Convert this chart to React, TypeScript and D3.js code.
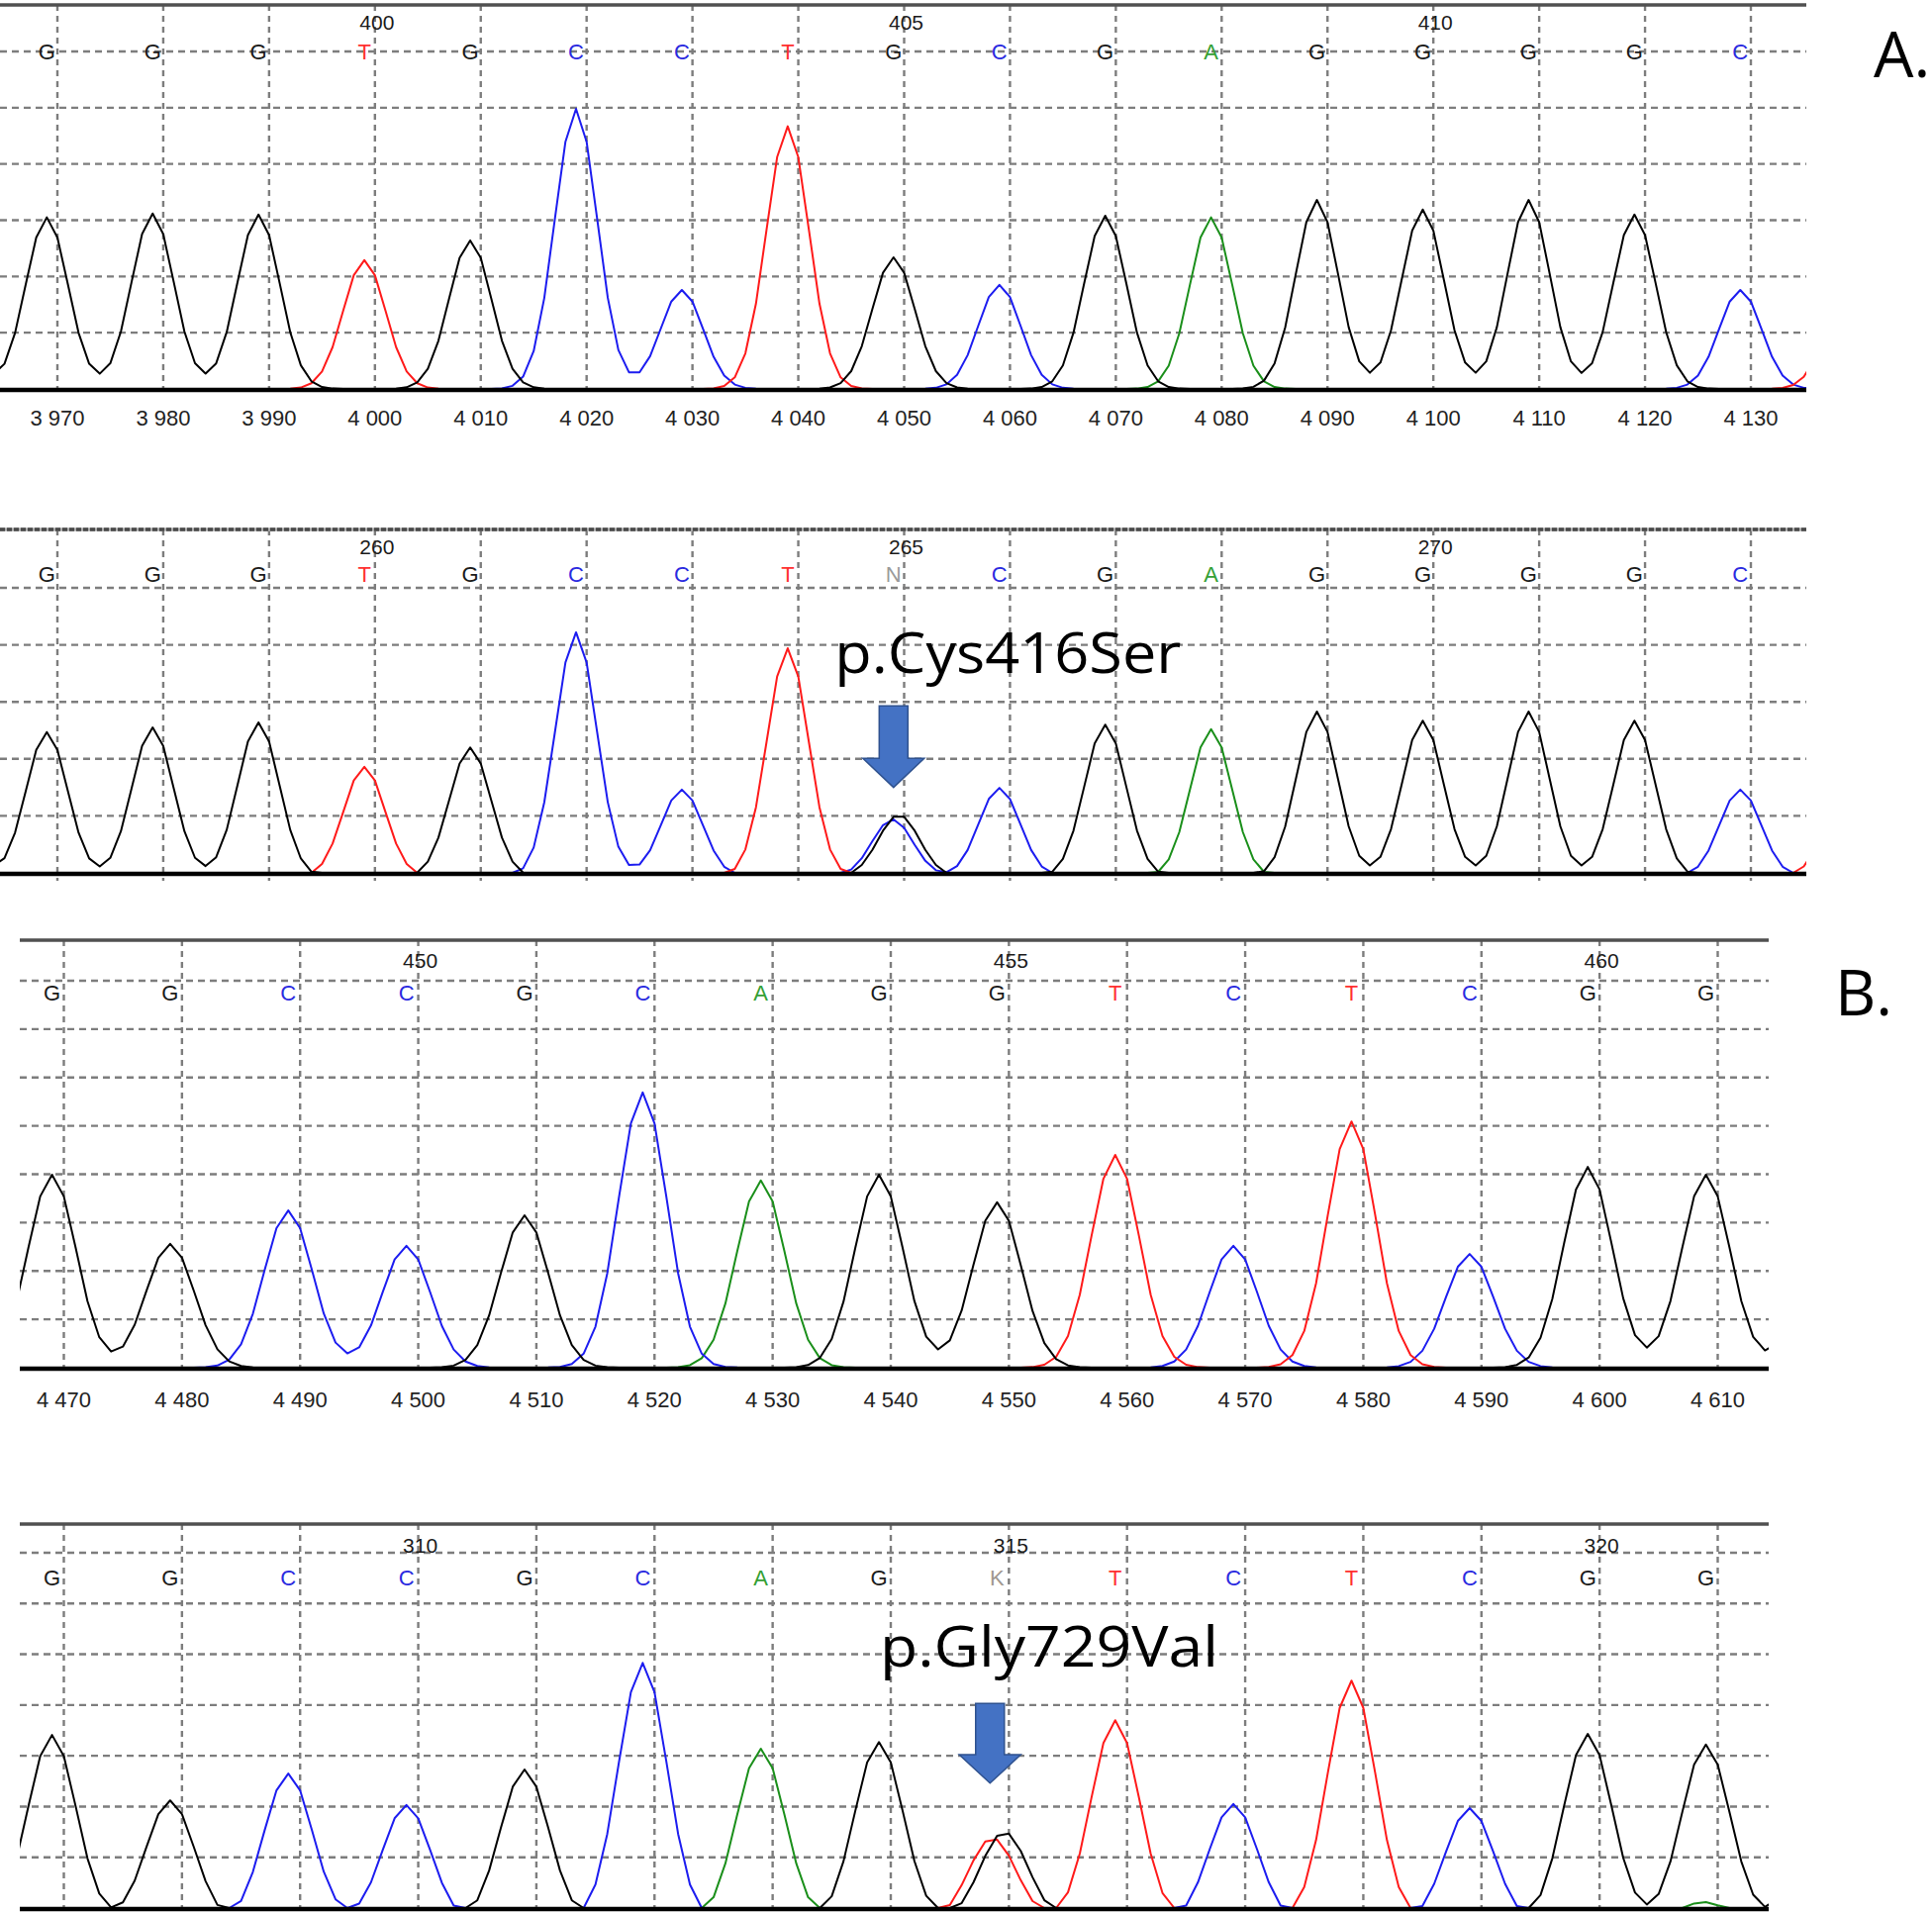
import React from "react";
import * as d3 from "d3";

// ---------------- data ----------------
const ticksA = [3970, 3980, 3990, 4000, 4010, 4020, 4030, 4040, 4050, 4060, 4070, 4080, 4090, 4100, 4110, 4120, 4130];
const ticksB = [4470, 4480, 4490, 4500, 4510, 4520, 4530, 4540, 4550, 4560, 4570, 4580, 4590, 4600, 4610];

const callPosA = [3969, 3979, 3989, 3999, 4009, 4019, 4029, 4039, 4049, 4059, 4069, 4079, 4089, 4099, 4109, 4119, 4129];
const callsA1 = ["G", "G", "G", "T", "G", "C", "C", "T", "G", "C", "G", "A", "G", "G", "G", "G", "C"];
const callsA2 = ["G", "G", "G", "T", "G", "C", "C", "T", "N", "C", "G", "A", "G", "G", "G", "G", "C"];
const numberPosA = [4000, 4050, 4100];
const numbersA1 = [400, 405, 410];
const numbersA2 = [260, 265, 270];

const callPosB = [4469, 4479, 4489, 4499, 4509, 4519, 4529, 4539, 4549, 4559, 4569, 4579, 4589, 4599, 4609];
const callsB1 = ["G", "G", "C", "C", "G", "C", "A", "G", "G", "T", "C", "T", "C", "G", "G"];
const callsB2 = ["G", "G", "C", "C", "G", "C", "A", "G", "K", "T", "C", "T", "C", "G", "G"];
const numberPosB = [4500, 4550, 4600];
const numbersB1 = [450, 455, 460];
const numbersB2 = [310, 315, 320];

// peaks (channel, position, height in grid units)
const peakBasesA1 = ["G", "G", "G", "G", "T", "G", "C", "C", "T", "G", "C", "G", "A", "G", "G", "G", "G", "C", "T"];
const peakPosA1 = [3959, 3969, 3979, 3989, 3999, 4009, 4019, 4029, 4039, 4049, 4059, 4069, 4079, 4089, 4099, 4109, 4119, 4129, 4139];
const peakHeightsA1 = [3.0, 3.05, 3.12, 3.1, 2.29, 2.64, 4.98, 1.76, 4.67, 2.34, 1.85, 3.08, 3.05, 3.36, 3.19, 3.36, 3.1, 1.76, 1.6];

const peakBasesA2 = ["G", "G", "G", "G", "T", "G", "C", "C", "T", "G", "C", "C", "G", "A", "G", "G", "G", "G", "C", "T"];
const peakPosA2 = [3959, 3969, 3979, 3989, 3999, 4009, 4019, 4029, 4039, 4049.5, 4048.9, 4059, 4069, 4079, 4089, 4099, 4109, 4119, 4129, 4139];
const peakHeightsA2 = [3.0, 2.47, 2.55, 2.64, 1.86, 2.2, 4.22, 1.46, 3.94, 1.02, 0.94, 1.49, 2.6, 2.52, 2.83, 2.67, 2.83, 2.67, 1.46, 1.5];

const peakBasesB1 = ["G", "G", "C", "C", "G", "C", "A", "G", "G", "T", "C", "T", "C", "G", "G", "G"];
const peakPosB1 = [4469, 4479, 4489, 4499, 4509, 4519, 4529, 4539, 4549, 4559, 4569, 4579, 4589, 4599, 4609, 4619];
const peakHeightsB1 = [3.99, 2.56, 3.25, 2.52, 3.15, 5.69, 3.87, 3.99, 3.42, 4.4, 2.52, 5.09, 2.35, 4.15, 3.99, 3.0];

const peakBasesB2 = ["G", "G", "C", "C", "G", "C", "A", "G", "G", "T", "T", "C", "T", "C", "G", "G", "A", "G"];
const peakPosB2 = [4469, 4479, 4489, 4499, 4509, 4519, 4529, 4539, 4549.6, 4548.6, 4559, 4569, 4579, 4589, 4599, 4609, 4608.8, 4619];
const peakHeightsB2 = [3.41, 2.12, 2.65, 2.03, 2.73, 4.83, 3.14, 3.27, 1.5, 1.38, 3.7, 2.05, 4.48, 1.97, 3.43, 3.22, 0.12, 2.5];

// annotations (data units)
const mutationA = { label: "p.Cys416Ser", pos: 4049, tip: 1.5, headBase: 2.01, top: 2.93, textPos: 4059.8, textH: 3.5 };
const mutationB = { label: "p.Gly729Val", pos: 4548.4, tip: 2.46, headBase: 3.02, top: 4.03, textPos: 4553.4, textH: 4.76 };

// ---------------- styles ----------------
const traceColor: Record<string, string> = { A: "#1a8f1a", C: "#1c1cf0", T: "#ff1a1a", G: "#000000" };
const letterColor: Record<string, string> = { A: "#34a034", C: "#2a2ae0", T: "#ff3030", G: "#1a1a1a", N: "#9a9a9a", K: "#a09890" };
const gridColor = "#7d7d7d";
const SANS = "'Liberation Sans', Arial, sans-serif";
const LABEL = "'Open Sans', 'Noto Sans', sans-serif";

interface PanelCfg {
  id: string;
  xDomain: [number, number];
  xRange: [number, number];
  clipX: [number, number];
  topY: number;
  topDashed: boolean;
  gridTop: number;
  baseline: number;
  nGrid: number;
  numberY: number;
  callY: number;
  tickLabelY: number | null;
  ticks: number[];
  calls: string[];
  callPos: number[];
  numbers: number[];
  numberPos: number[];
  peakBases: string[];
  peakPos: number[];
  peakHeights: number[];
  sigma: number;
  offset: number;
}

const panels: PanelCfg[] = [
  {
    id: "a1", xDomain: [3970, 4130], xRange: [58, 1769], clipX: [0, 1825],
    topY: 5, topDashed: false, gridTop: 52, baseline: 393, nGrid: 6,
    numberY: 30, callY: 60, tickLabelY: 430,
    ticks: ticksA, calls: callsA1, callPos: callPosA, numbers: numbersA1, numberPos: numberPosA,
    peakBases: peakBasesA1, peakPos: peakPosA1, peakHeights: peakHeightsA1, sigma: 2.0, offset: 0,
  },
  {
    id: "a2", xDomain: [3970, 4130], xRange: [58, 1769], clipX: [0, 1825],
    topY: 535, topDashed: true, gridTop: 594, baseline: 882, nGrid: 5,
    numberY: 560, callY: 588, tickLabelY: null,
    ticks: ticksA, calls: callsA2, callPos: callPosA, numbers: numbersA2, numberPos: numberPosA,
    peakBases: peakBasesA2, peakPos: peakPosA2, peakHeights: peakHeightsA2, sigma: 1.95, offset: 0.08,
  },
  {
    id: "b1", xDomain: [4470, 4610], xRange: [64.5, 1735.5], clipX: [20, 1787],
    topY: 950, topDashed: false, gridTop: 991, baseline: 1382, nGrid: 8,
    numberY: 978, callY: 1011, tickLabelY: 1422,
    ticks: ticksB, calls: callsB1, callPos: callPosB, numbers: numbersB1, numberPos: numberPosB,
    peakBases: peakBasesB1, peakPos: peakPosB1, peakHeights: peakHeightsB1, sigma: 2.05, offset: 0,
  },
  {
    id: "b2", xDomain: [4470, 4610], xRange: [64.5, 1735.5], clipX: [20, 1787],
    topY: 1540, topDashed: false, gridTop: 1569, baseline: 1928, nGrid: 7,
    numberY: 1569, callY: 1602, tickLabelY: null,
    ticks: ticksB, calls: callsB2, callPos: callPosB, numbers: numbersB2, numberPos: numberPosB,
    peakBases: peakBasesB2, peakPos: peakPosB2, peakHeights: peakHeightsB2, sigma: 2.05, offset: 0.3,
  },
];

const fmtTick = (v: number) => d3.format(",")(v).replace(",", " ");

function scalesFor(cfg: PanelCfg) {
  const x = d3.scaleLinear().domain(cfg.xDomain).range(cfg.xRange);
  const y = d3.scaleLinear().domain([0, cfg.nGrid]).range([cfg.baseline, cfg.gridTop]);
  return { x, y };
}

function Panel({ cfg }: { cfg: PanelCfg }) {
  const { x, y } = scalesFor(cfg);
  const [cl, cr] = cfg.clipX;
  const v0 = Math.floor(x.invert(cl)) - 2;
  const v1 = Math.ceil(x.invert(cr)) + 2;
  const samples = d3.range(v0, v1 + 0.001, 1);
  const line = d3
    .line<[number, number]>()
    .x((d) => x(d[0]))
    .y((d) => y(d[1]));
  const s2 = 2 * cfg.sigma * cfg.sigma;
  const channels = ["A", "C", "T", "G"];
  const traces = channels.map((ch) => {
    const idx = cfg.peakBases.map((b, i) => (b === ch ? i : -1)).filter((i) => i >= 0);
    const pts: [number, number][] = samples.map((v) => {
      const sum = d3.sum(idx, (i) => (cfg.peakHeights[i] + cfg.offset) * Math.exp(-((v - cfg.peakPos[i]) ** 2) / s2));
      return [v, Math.max(0, sum - cfg.offset)];
    });
    return { ch, d: line(pts) || "" };
  });
  const gridYs = d3.range(1, cfg.nGrid + 1).map((i) => y(i));
  const clipId = `clip-${cfg.id}`;
  return (
    <g>
      <defs>
        <clipPath id={clipId}>
          <rect x={cl} y={cfg.topY} width={cr - cl} height={cfg.baseline - cfg.topY + 3} />
        </clipPath>
      </defs>
      {/* horizontal grid */}
      {gridYs.map((gy, i) => (
        <line key={`h${i}`} x1={cl} x2={cr} y1={gy} y2={gy} stroke={gridColor} strokeWidth={2.4} strokeDasharray="7,5" />
      ))}
      {/* vertical grid / ticks */}
      {cfg.ticks.map((t) => (
        <line key={`v${t}`} x1={x(t)} x2={x(t)} y1={cfg.topY} y2={cfg.baseline + 8} stroke={gridColor} strokeWidth={2.4} strokeDasharray="6,5" />
      ))}
      {/* top border */}
      {cfg.topDashed ? (
        <g>
          <line x1={cl} x2={cr} y1={cfg.topY} y2={cfg.topY} stroke="#aaa" strokeWidth={3.5} />
          <line x1={cl} x2={cr} y1={cfg.topY} y2={cfg.topY} stroke="#4a4a4a" strokeWidth={3.5} strokeDasharray="5,2" />
        </g>
      ) : (
        <line x1={cl} x2={cr} y1={cfg.topY} y2={cfg.topY} stroke="#505050" strokeWidth={3.5} />
      )}
      {/* traces */}
      <g clipPath={`url(#${clipId})`}>
        {traces.map((t) => (
          <path key={t.ch} d={t.d} fill="none" stroke={traceColor[t.ch]} strokeWidth={2} strokeLinejoin="round" />
        ))}
      </g>
      {/* baseline */}
      <line x1={cl} x2={cr} y1={cfg.baseline + 1} y2={cfg.baseline + 1} stroke="#000" strokeWidth={4.5} />
      {/* base position numbers */}
      {cfg.numbers.map((n, i) => (
        <text key={`n${n}`} x={x(cfg.numberPos[i]) + 2} y={cfg.numberY} textAnchor="middle" fontFamily={SANS} fontSize={21} fill="#1a1a1a">
          {n}
        </text>
      ))}
      {/* base calls */}
      {cfg.calls.map((c, i) => (
        <text key={`c${i}`} x={x(cfg.callPos[i])} y={cfg.callY} textAnchor="middle" fontFamily={SANS} fontSize={22} fill={letterColor[c]}>
          {c}
        </text>
      ))}
      {/* tick labels */}
      {cfg.tickLabelY !== null &&
        cfg.ticks.map((t) => (
          <text key={`t${t}`} x={x(t)} y={cfg.tickLabelY as number} textAnchor="middle" fontFamily={SANS} fontSize={22} fill="#222">
            {fmtTick(t)}
          </text>
        ))}
    </g>
  );
}

function arrowPath(cx: number, yTop: number, yHeadBase: number, yTip: number, shaftW: number, headW: number) {
  return `M${cx - shaftW / 2},${yTop} H${cx + shaftW / 2} V${yHeadBase} H${cx + headW / 2} L${cx},${yTip} L${cx - headW / 2},${yHeadBase} H${cx - shaftW / 2} Z`;
}

function Mutation({ cfg, m, textWidth }: { cfg: PanelCfg; m: typeof mutationA; textWidth: number }) {
  const { x, y } = scalesFor(cfg);
  const cx = x(m.pos);
  return (
    <g>
      <path d={arrowPath(cx, y(m.top), y(m.headBase), y(m.tip), 29, 62)} fill="#4472C4" stroke="#2F528F" strokeWidth={1.5} />
      <text
        x={x(m.textPos)}
        y={y(m.textH)}
        textAnchor="middle"
        fontFamily={LABEL}
        fontSize={56}
        fill="#000"
        textLength={textWidth}
        lengthAdjust="spacingAndGlyphs"
      >
        {m.label}
      </text>
    </g>
  );
}

export default function App() {
  return (
    <svg
      width={1952}
      height={1932}
      viewBox="0 0 1952 1932"
      style={{ position: "absolute", left: 0, top: 0, background: "#fff" }}
    >
      <rect x={0} y={0} width={1952} height={1932} fill="#fff" />
      {panels.map((p) => (
        <Panel key={p.id} cfg={p} />
      ))}
      <Mutation cfg={panels[1]} m={mutationA} textWidth={350} />
      <Mutation cfg={panels[3]} m={mutationB} textWidth={342} />
      <text x={1893} y={78} fontFamily={LABEL} fontSize={64} fill="#000">A.</text>
      <text x={1854} y={1026} fontFamily={LABEL} fontSize={64} fill="#000">B.</text>
    </svg>
  );
}
